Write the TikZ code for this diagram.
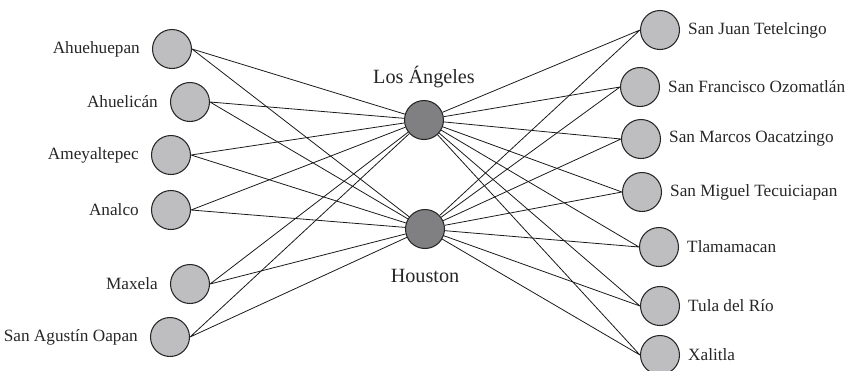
\documentclass[tikz,border=0pt]{standalone}
\usepackage{fontspec}
\setmainfont{Liberation Serif}
\usetikzlibrary{positioning}
\definecolor{placegray}{RGB}{190,190,192}
\definecolor{hubgray}{RGB}{128,128,131}
\tikzset{basic/.style={draw=black!85,circle,minimum size=0.78cm,inner sep=0pt,line width=0.6pt}}
\tikzset{place/.style={basic,fill=placegray}}
\tikzset{hub/.style={basic,fill=hubgray}}
\tikzset{townname/.style={font=\fontsize{9.8}{12}\selectfont,text=black!85}}
\tikzset{hubname/.style={font=\fontsize{11.5}{13}\selectfont,text=black!85}}
\tikzstyle{edge}=[draw,line width=0.45pt,black!90]

\begin{document}
\begin{tikzpicture}[x=0.02cm,y=-0.02cm]
        \useasboundingbox (0,0) rectangle (850,370);
        % hubs
        \node[hub] (la) at (424,120) {};
        \node[hubname,above=0.12cm of la] (lla) {Los Ángeles};
        \node[hub] (hou) at (425,229) {};
        \node[hubname,below=0.29cm of hou] (lhou) {Houston};

        % left side
        \node[place] (ahu) at (172,49) {};
        \node[townname,left=0.12cm of ahu] (lahu) {Ahuehuepan};
        \node[place] (ahl) at (190,102) {};
        \node[townname,left=0.12cm of ahl] (lahl) {Ahuelicán};
        \node[place] (ame) at (171,155) {};
        \node[townname,left=0.12cm of ame] (lame) {Ameyaltepec};
        \node[place] (ana) at (171,210) {};
        \node[townname,left=0.12cm of ana] (lana) {Analco};
        \node[place] (max) at (190,284) {};
        \node[townname,left=0.12cm of max] (lmax) {Maxela};
        \node[place] (sag) at (170,337) {};
        \node[townname,left=0.12cm of sag] (lsag) {San Agustín Oapan};

        % right side
        \node[place] (sjt) at (660,30) {};
        \node[townname,right=0.04cm of sjt] (lsjt) {San Juan Tetelcingo};
        \node[place] (sfo) at (640,87) {};
        \node[townname,right=0.04cm of sfo] (lsfo) {San Francisco Ozomatlán};
        \node[place] (smo) at (641,139) {};
        \node[townname,right=0.04cm of smo] (lsmo) {San Marcos Oacatzingo};
        \node[place] (smt) at (642,192) {};
        \node[townname,right=0.04cm of smt] (lsmt) {San Miguel Tecuiciapan};
        \node[place] (tla) at (659,247) {};
        \node[townname,right=0.04cm of tla] (ltla) {Tlamamacan};
        \node[place] (tul) at (660,306) {};
        \node[townname,right=0.04cm of tul] (ltul) {Tula del Río};
        \node[place] (xal) at (660,355) {};
        \node[townname,right=0.04cm of xal] (lxal) {Xalitla};

        % connections
        \path[edge] (ahu.east) -- (la) (ahu.east) -- (hou);
        \path[edge] (ahl.east) -- (la) (ahl.east) -- (hou);
        \path[edge] (ame.east) -- (la) (ame.east) -- (hou);
        \path[edge] (ana.east) -- (la) (ana.east) -- (hou);
        \path[edge] (max.east) -- (la) (max.east) -- (hou);
        \path[edge] (sag.east) -- (la) (sag.east) -- (hou);
        \path[edge] (sjt.west) -- (la) (sjt.west) -- (hou);
        \path[edge] (sfo.west) -- (la) (sfo.west) -- (hou);
        \path[edge] (smo.west) -- (la) (smo.west) -- (hou);
        \path[edge] (smt.west) -- (la) (smt.west) -- (hou);
        \path[edge] (tla.west) -- (la) (tla.west) -- (hou);
        \path[edge] (tul.west) -- (la) (tul.west) -- (hou);
        \path[edge] (xal.west) -- (la) (xal.west) -- (hou);
\end{tikzpicture}
\end{document}
